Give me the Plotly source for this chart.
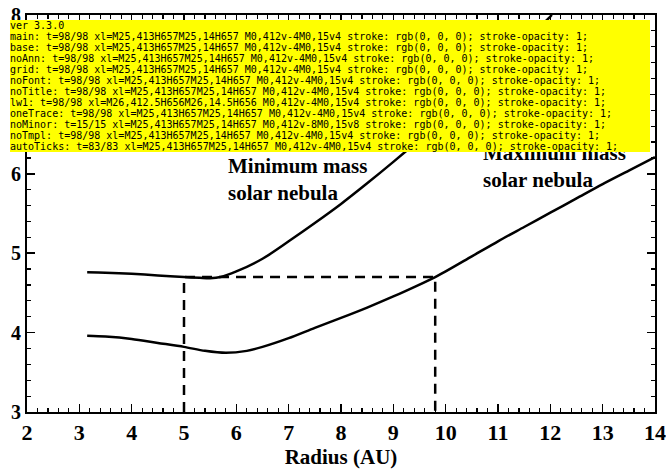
import json
import copy
import plotly.graph_objects as go

# Minimum mass solar nebula
min_r = [3.15, 3.5, 4.0, 4.5, 5.0, 5.3, 5.5, 5.7, 6.0, 6.5, 7.0, 7.5, 8.0, 8.5, 9.0, 9.5, 10.0, 10.5, 11.0, 11.5, 12.0, 12.03]
min_f = [4.76, 4.755, 4.74, 4.72, 4.70, 4.69, 4.685, 4.70, 4.77, 4.93, 5.15, 5.38, 5.62, 5.88, 6.15, 6.43, 6.72, 7.02, 7.33, 7.66, 7.98, 8.0]

# Maximum mass solar nebula
max_r = [3.15, 3.5, 4.0, 4.5, 5.0, 5.4, 5.8, 6.2, 6.5, 7.0, 7.5, 8.0, 8.5, 9.0, 9.5, 9.8, 10.0, 10.5, 11.0, 11.5, 12.0, 12.5, 13.0, 13.5, 14.0]
max_f = [3.96, 3.95, 3.92, 3.87, 3.82, 3.77, 3.745, 3.77, 3.82, 3.93, 4.06, 4.185, 4.315, 4.455, 4.605, 4.70, 4.77, 4.96, 5.15, 5.33, 5.51, 5.69, 5.87, 6.04, 6.21]

# Dashed guide lines
guide_r = [5.0, 5.0, 9.8, 9.8]
guide_f = [3.0, 4.70, 4.70, 3.0]

x_ticks = list(range(2, 15))
y_ticks = list(range(3, 9))
x_range = [2, 14]
y_range = [3, 8]

font_family = "Liberation Serif"

fig = go.Figure()
fig.add_trace(go.Scatter(x=min_r, y=min_f, mode="lines", line=dict(color="black", width=2.5, shape="spline", smoothing=0.8), showlegend=False, hoverinfo="skip"))
fig.add_trace(go.Scatter(x=max_r, y=max_f, mode="lines", line=dict(color="black", width=2.5, shape="spline", smoothing=0.8), showlegend=False, hoverinfo="skip"))
fig.add_trace(go.Scatter(x=guide_r, y=guide_f, mode="lines", line=dict(color="black", width=2.5, dash="10px,7px"), showlegend=False, hoverinfo="skip"))

tick_style = dict(
    showgrid=False, zeroline=False, showline=True, linecolor="black", linewidth=2,
    mirror="allticks", ticks="inside", ticklen=8, tickwidth=1.5, tickcolor="black",
    minor=dict(dtick=0.2, ticks="inside", ticklen=4, tickwidth=1.2, tickcolor="black", showgrid=False),
)

fig.update_layout(
    template="none",
    width=666, height=471,
    margin=dict(l=27, r=11, t=15, b=59),
    plot_bgcolor="white", paper_bgcolor="white",
    showlegend=False,
    xaxis=dict(
        range=x_range, tickmode="array", tickvals=x_ticks, ticktext=[f"<b>{v}</b>" for v in x_ticks],
        tickfont=dict(family=font_family, size=22, color="black"),
        title=dict(text="<b>Radius (AU)</b>", font=dict(family=font_family, size=21, color="black"), standoff=0),
        **tick_style,
    ),
    yaxis=dict(
        range=y_range, tickmode="array", tickvals=y_ticks, ticktext=[f"<b>{v}</b>" for v in y_ticks],
        tickfont=dict(family=font_family, size=20, color="black"),
        **tick_style,
    ),
)

fig.add_annotation(
    x=2.12, y=7.6, xref="x", yref="y", xanchor="left", yanchor="middle", showarrow=False,
    text="<b>f = (D/H)<sub>H₂O</sub>/(D/H)<sub>H₂</sub></b>",
    font=dict(family=font_family, size=27, color="black"),
)
fig.add_annotation(
    x=5.81, y=5.93, xref="x", yref="y", xanchor="left", yanchor="middle", showarrow=False, align="left",
    text="<b>Minimum mass<br>solar nebula</b>",
    font=dict(family=font_family, size=21, color="black"),
)
fig.add_annotation(
    x=10.68, y=6.09, xref="x", yref="y", xanchor="left", yanchor="middle", showarrow=False, align="left",
    text="<b>Maximum mass<br>solar nebula</b>",
    font=dict(family=font_family, size=21, color="black"),
)

# ---- diagnostic variants (temporary) ----
base = json.loads(fig.to_json())
variants = []
def add_variant(name, fn):
    v = copy.deepcopy(base)
    fn(v)
    variants.append((name, v))

add_variant("base", lambda v: None)
add_variant("noAnn", lambda v: v["layout"].pop("annotations", None))
def f_grid(v):
    for a in ("xaxis", "yaxis"):
        v["layout"][a].pop("showgrid", None); v["layout"][a].pop("zeroline", None)
add_variant("grid", f_grid)
def f_font(v):
    for a in ("xaxis", "yaxis"):
        v["layout"][a].pop("tickfont", None)
add_variant("noFont", f_font)
add_variant("noTitle", lambda v: v["layout"]["xaxis"].pop("title", None))
def f_lw(v):
    for a in ("xaxis", "yaxis"):
        v["layout"][a]["linewidth"] = 1
add_variant("lw1", f_lw)
add_variant("oneTrace", lambda v: v.__setitem__("data", v["data"][:1]))
def f_minor(v):
    for a in ("xaxis", "yaxis"):
        v["layout"][a].pop("minor", None)
add_variant("noMinor", f_minor)
def f_tmpl(v):
    v["layout"].pop("template", None)
add_variant("noTmpl", f_tmpl)
def f_range(v):
    for a in ("xaxis", "yaxis"):
        v["layout"][a].pop("tickmode", None); v["layout"][a].pop("tickvals", None); v["layout"][a].pop("ticktext", None)
add_variant("autoTicks", f_range)

variants_js = json.dumps([[n, v["data"], v["layout"]] for n, v in variants])

js = """
var VARS = %s;
function info(div){
  var t = div.querySelectorAll('path.ticks');
  var nz = 0; for (var i=0;i<t.length;i++){ var d=t[i].getAttribute('d')||''; if(d.length>2) nz++; }
  var xl = div.querySelector('.xlines-above'); var xd = xl ? (xl.getAttribute('d')||'').slice(0,40) : 'none';
  var tk = t.length ? ((t[0].getAttribute('d')||'').slice(0,20) + ' ' + (t[0].getAttribute('style')||'').slice(0,40)) : '';
  return 't=' + t.length + '/' + nz + ' xl=' + xd + ' ' + tk;
}
var out = ['ver ' + Plotly.version, 'main: ' + info(document.querySelector('.plotly-graph-div'))];
var p = Promise.resolve();
VARS.forEach(function(v){
  p = p.then(function(){
    var d = document.createElement('div');
    d.style.cssText = 'position:absolute;left:-3000px;top:0;width:666px;height:471px';
    document.body.appendChild(d);
    try {
      return Plotly.newPlot(d, v[1], v[2]).then(function(){ out.push(v[0] + ': ' + info(d)); }, function(e){ out.push(v[0] + ' ERR ' + e); });
    } catch(e) { out.push(v[0] + ' EXC ' + e); }
  });
});
p.then(function(){
  var b = document.createElement('div');
  b.style.cssText = 'position:absolute;top:20px;left:10px;width:640px;font:10px monospace;background:yellow;word-break:break-all;z-index:1000;white-space:pre-wrap';
  b.textContent = out.join('\\n');
  document.body.appendChild(b);
});
""" % variants_js

fig.write_html(
    "out.html",
    config={"displayModeBar": False, "staticPlot": True},
    post_script="document.body.style.margin='0';document.body.style.overflow='hidden';" + js,
)
